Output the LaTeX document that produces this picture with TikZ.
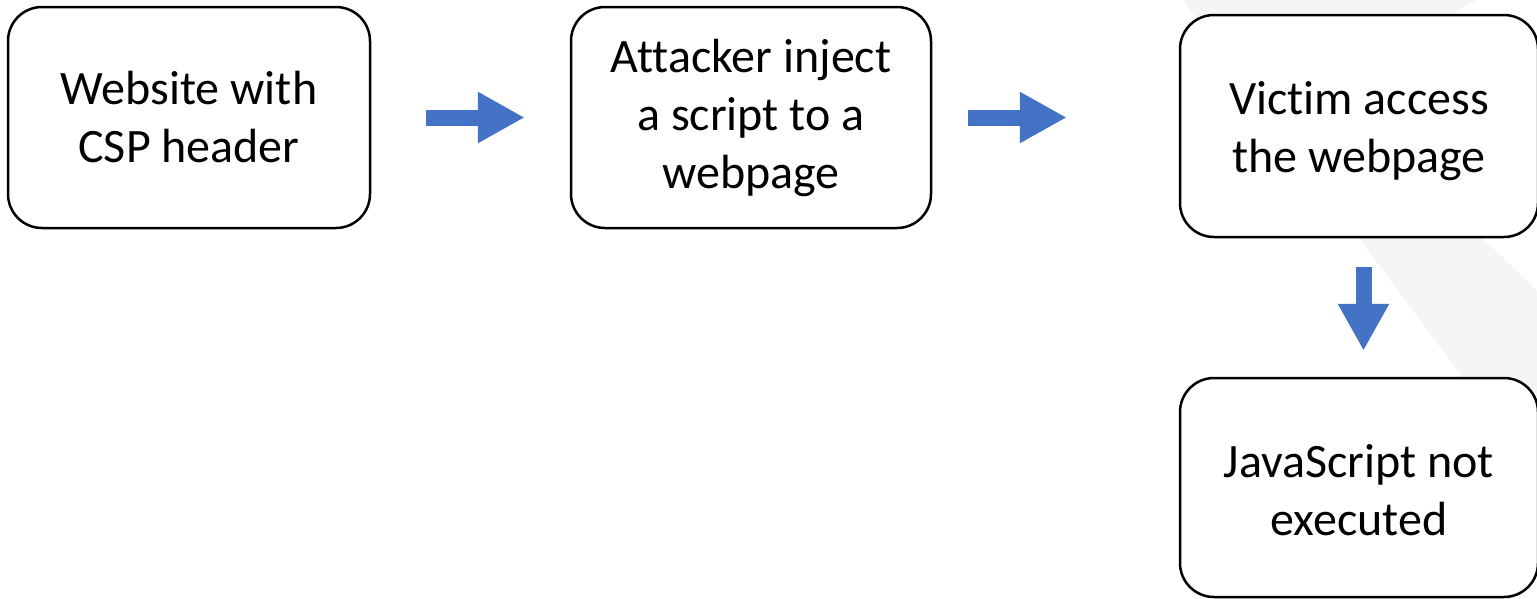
\documentclass[tikz,border=0pt]{standalone}
\usepackage{fontspec}
\setmainfont{Carlito}[Ligatures=NoCommon]
\usetikzlibrary{arrows.meta}
\definecolor{flowblue}{HTML}{4472C4}
\definecolor{bandgrey}{HTML}{F5F5F5}
\tikzset{
  stepbox/.style={draw=black, line width=2.5pt, fill=white, rounded corners=34pt,
    inner sep=0pt, align=center, minimum width=360pt, minimum height=221pt,
    font=\fontsize{48}{58}\selectfont},
  blockarrow/.style={draw=flowblue, line width=16pt,
    -{Triangle[width=48pt,length=47pt]}, fill=flowblue}
}
\begin{document}
\begin{tikzpicture}[x=1pt,y=-1pt]
  \useasboundingbox (0,0) rectangle (1537,598);
  % page background and the faint diagonal band on the right
  \fill[white] (0,0) rectangle (1537,598);
  \fill[bandgrey] (1183,0) -- (1476,0) -- (1328,88) -- (1537,291)
    -- (1537,478) -- cycle;

  % process steps
  \node[stepbox, minimum width=362pt] (site) at (189,117.5) {Website with\\CSP header};
  \node[stepbox] (inject) at (751,117.5) {Attacker inject\\a script to a\\webpage};
  \node[stepbox, minimum width=358pt, minimum height=222pt] (victim) at (1359,126)
    {\rule{0pt}{44pt}Victim access\\the webpage};
  \node[stepbox, minimum width=358pt, minimum height=219pt] (result) at (1359,487.5)
    {\rule{0pt}{38pt}JavaScript not\\executed};

  % flow arrows
  \draw[blockarrow, shorten <=55pt, shorten >=45pt] (site.east) -- (inject.west);
  \draw[blockarrow, shorten <=36pt, shorten >=112pt] (inject.east) -- (inject.east -| victim.west);
  \draw[blockarrow, shorten <=29pt, shorten >=26pt] ([xshift=4.5pt]victim.south) -- ([xshift=4.5pt]result.north);
\end{tikzpicture}
\end{document}
